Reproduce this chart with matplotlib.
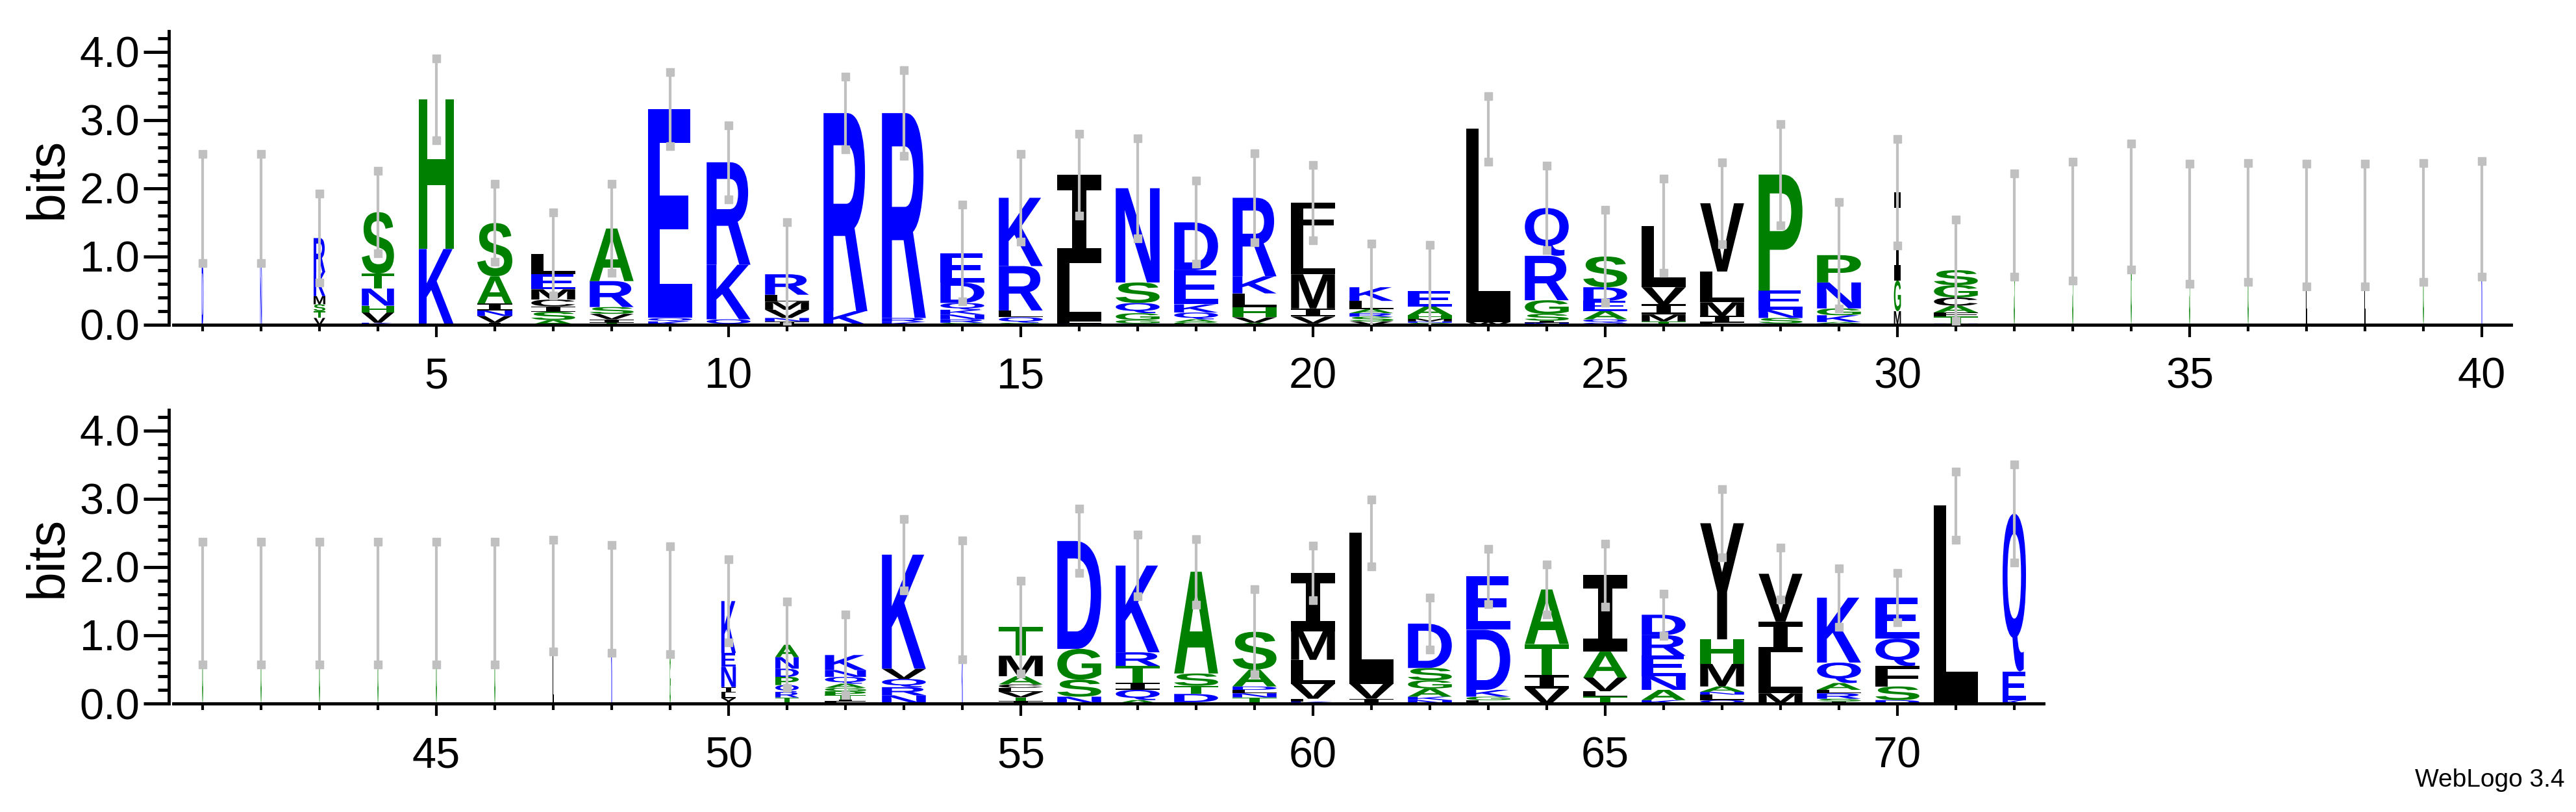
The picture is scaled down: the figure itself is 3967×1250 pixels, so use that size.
import matplotlib
matplotlib.use("Agg")
import matplotlib.pyplot as plt
from matplotlib.textpath import TextPath
from matplotlib.patches import PathPatch
from matplotlib.font_manager import FontProperties
from matplotlib.transforms import Affine2D
from matplotlib.ticker import MultipleLocator, FormatStrFormatter

# letter stacks, bottom to top: "letter:bits"
stacks = [
    "D:0.9 Q:0.8", "N:0.7 K:1.0", "V:0.1 T:0.1 S:0.1 M:0.12 K:0.35 R:0.5",
    "K:0.03 V:0.15 H:0.1 N:0.25 T:0.22 S:0.9", "K:1.11 H:2.19",
    "I:0.03 V:0.1 N:0.08 I:0.1 A:0.4 S:0.78",
    "A:0.07 S:0.12 I:0.08 C:0.1 M:0.15 E:0.22 L:0.3",
    "T:0.03 I:0.05 V:0.08 S:0.1 R:0.38 A:0.77", "K:0.05 Q:0.05 E:3.06",
    "Q:0.08 K:0.8 R:1.5", "I:0.05 N:0.05 V:0.12 M:0.12 L:0.1 R:0.3", "K:0.2 R:2.9",
    "K:0.04 R:0.06 R:3.0", "G:0.03 R:0.05 N:0.07 K:0.07 Q:0.1 D:0.3 E:0.43",
    "G:0.03 Q:0.08 L:0.1 R:0.65 K:1.0", "N:0.02 L:0.03 L:0.85 I:1.3",
    "N:0.02 G:0.05 G:0.1 Q:0.15 S:0.3 N:1.38", "G:0.04 A:0.04 Q:0.1 K:0.12 E:0.5 D:0.7",
    "A:0.03 V:0.08 H:0.15 L:0.2 K:0.25 R:1.15", "L:0.02 V:0.1 I:0.12 M:0.5 L:0.52 F:0.53",
    "V:0.05 S:0.07 R:0.05 A:0.06 L:0.12 K:0.2", "G:0.03 N:0.02 M:0.04 H:0.05 A:0.13 E:0.22",
    "W:0.04 L:2.83", "N:0.03 I:0.03 S:0.1 G:0.2 R:0.65 Q:0.7",
    "Q:0.03 Q:0.05 A:0.12 E:0.15 D:0.2 S:0.45", "T:0.05 M:0.1 I:0.15 V:0.25 L:0.9",
    "L:0.03 I:0.1 M:0.2 L:0.45 V:1.0", "N:0.02 S:0.08 N:0.12 E:0.28 P:1.7",
    "N:0.02 A:0.02 K:0.1 G:0.1 N:0.38 P:0.4", "M:0.2 G:0.45 I:1.29",
    "N:0.02 T:0.1 F:0.06 A:0.1 C:0.12 G:0.18 S:0.22",
    "S:1.46", "S:1.52", "G:1.73", "S:1.48", "G:1.5", "L:1.46", "L:1.46", "G:1.5", "K:1.55",
    "G:1.47", "G:1.47", "G:1.47", "G:1.47", "G:1.47", "G:1.47", "L:0.8 K:0.78",
    "K:1.53", "G:0.7 K:0.81", "Y:0.08 L:0.08 I:0.08 N:0.3 E:0.2 K:0.76",
    "T:0.09 R:0.08 Q:0.1 P:0.12 D:0.12 N:0.17 A:0.18",
    "L:0.03 I:0.03 T:0.06 P:0.06 G:0.05 A:0.06 Q:0.1 N:0.1 K:0.22",
    "N:0.12 R:0.12 Q:0.12 V:0.15 K:1.67", "K:0.7 G:0.82",
    "I:0.04 T:0.05 V:0.08 L:0.06 C:0.05 A:0.12 M:0.3 T:0.42", "N:0.1 S:0.25 G:0.45 D:1.58",
    "A:0.05 Q:0.15 I:0.1 T:0.25 R:0.2 K:1.27", "L:0.02 D:0.12 T:0.12 S:0.18 A:1.49",
    "T:0.03 T:0.06 N:0.06 L:0.05 D:0.05 A:0.25 S:0.55", "K:0.03 F:0.04 V:0.22 L:0.35 M:0.42 I:0.85",
    "I:0.07 V:0.22 L:2.21", "N:0.05 K:0.05 A:0.12 G:0.12 S:0.18 D:0.65",
    "L:0.05 G:0.05 K:0.1 D:0.88 E:0.78", "V:0.22 I:0.2 T:0.45 A:0.8",
    "T:0.1 L:0.08 V:0.2 A:0.38 I:1.12", "K:0.05 A:0.15 N:0.2 E:0.3 R:0.3 D:0.3",
    "Q:0.05 L:0.08 N:0.04 A:0.08 M:0.33 H:0.36 Y:1.7", "M:0.15 L:0.6 I:0.45 V:0.7",
    "I:0.03 S:0.04 R:0.08 L:0.05 A:0.1 Q:0.3 K:0.95", "D:0.05 S:0.2 F:0.3 Q:0.4 E:0.6",
    "L:2.9", "K:0.05 E:0.42 Q:2.31",
]
err_top = [2.5, 2.5, 1.92, 2.25, 3.9, 2.06, 1.65, 2.06, 3.7, 2.92, 1.5, 3.63, 3.73, 1.76,
           2.5, 2.8, 2.73, 2.11, 2.51, 2.34, 1.19, 1.17, 3.35, 2.33, 1.68, 2.14, 2.38, 2.94,
           1.8, 2.72, 1.54, 2.22, 2.39, 2.65, 2.36, 2.37, 2.36, 2.36, 2.37, 2.4,
           2.37, 2.37, 2.37, 2.37, 2.37, 2.37, 2.4, 2.32, 2.3, 2.11, 1.49, 1.3, 2.7, 2.39,
           1.8, 2.85, 2.47, 2.41, 1.67, 2.31, 2.99, 1.55, 2.26, 2.04, 2.34, 1.61, 3.14, 2.28,
           1.98, 1.91, 3.4, 3.5]
widths = {1: 0.03, 2: 0.03, 3: 0.2, 4: 0.55, 5: 0.6, 6: 0.6, 30: 0.12, 50: 0.25, 51: 0.4,
          52: 0.7, 54: 0.02, 72: 0.4}
for p in range(32, 50):
    widths[p] = 0.02

green = "#008000"
blue = "#0000ff"
colours = {}
for c in "STAGHP":
    colours[c] = green
for c in "KRDENQ":
    colours[c] = blue
for c in "LIVMFCWY":
    colours[c] = "black"

fp = FontProperties(family="Liberation Sans", weight="bold")
fp_i = FontProperties(family="DejaVu Sans Mono", weight="bold")  # I with bars
glyphs = {}


def draw_letter(ax, ch, x, y0, w, h):
    if ch not in glyphs:
        glyphs[ch] = TextPath((0, 0), ch, size=1, prop=fp_i if ch == "I" else fp)
    tp = glyphs[ch]
    ext = tp.get_extents()
    tr = (Affine2D().translate(-ext.x0, -ext.y0)
          .scale(w / ext.width, h / ext.height)
          .translate(x - w / 2, y0))
    ax.add_patch(PathPatch(tr.transform_path(tp), fc=colours[ch], ec="none", lw=0))


fig = plt.figure(figsize=(39.67, 12.5), dpi=100)
ax_top = fig.add_axes([0.0673, 0.6, 0.9075, 0.3616])
ax_bot = fig.add_axes([0.0673, 0.1336, 0.9075, 0.3616])

for ax, first, last in [(ax_top, 1, 40), (ax_bot, 41, 72)]:
    for pos in range(first, last + 1):
        w = widths.get(pos, 0.75)
        y = 0.0
        for item in stacks[pos - 1].split():
            ch, val = item.split(":")
            val = float(val)
            draw_letter(ax, ch, pos, y, w, val)
            y += val
        e = err_top[pos - 1] - y
        ax.plot([pos, pos], [y - e, y + e], color="#c0c0c0", lw=3, zorder=5,
                solid_capstyle="butt")
        ax.plot([pos, pos], [y - e, y + e], ls="none", marker="s", ms=9, color="#c0c0c0",
                zorder=5)
    ax.set_xlim(first - 0.5, first + 39.5)
    ax.set_ylim(0, 4.3)
    for s in ["top", "right"]:
        ax.spines[s].set_visible(False)
    ax.spines["left"].set_position(("outward", 5))
    ax.spines["left"].set_bounds(0, 4.3)
    ax.spines["bottom"].set_bounds(first - 0.5, last + 0.5)
    ax.spines["left"].set_linewidth(3.5)
    ax.spines["bottom"].set_linewidth(3.5)
    ax.yaxis.set_major_locator(MultipleLocator(1.0))
    ax.yaxis.set_minor_locator(MultipleLocator(0.2))
    ax.yaxis.set_major_formatter(FormatStrFormatter("%.1f"))
    ax.set_xticks(range(first, last + 1), minor=True)
    ax.set_xticks([p for p in range(first, last + 1) if p % 5 == 0])
    ax.tick_params(axis="y", which="major", length=28, width=3.5, labelsize=48, pad=4)
    ax.tick_params(axis="y", which="minor", length=12, width=3.5)
    ax.tick_params(axis="x", which="major", length=14, width=3, labelsize=48, pad=22)
    ax.tick_params(axis="x", which="minor", length=7, width=3)
    for lab in ax.get_xticklabels() + ax.get_yticklabels():
        lab.set_family("Liberation Sans")
    ax.set_ylabel("bits", fontsize=58, family="Liberation Sans", labelpad=8)

fig.text(0.9955, 0.025, "WebLogo 3.4", ha="right", va="bottom", fontsize=28,
         family="Liberation Sans")
fig.savefig("out.png", dpi=100)
